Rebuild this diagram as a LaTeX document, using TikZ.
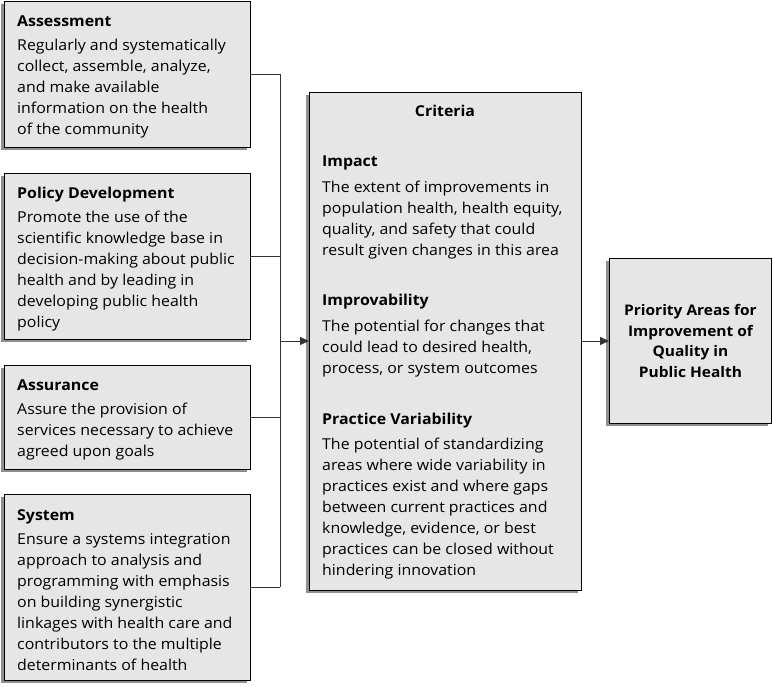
\documentclass[tikz,border=0pt]{standalone}
\usepackage{fontspec}
\setmainfont{Open Sans}[FakeStretch=1.06]
\usetikzlibrary{arrows.meta,shadows}
\definecolor{boxgray}{HTML}{E6E6E6}
\definecolor{shadowgray}{HTML}{8F8F8F}
\newcommand{\tstrut}{\rule{0pt}{15pt}}
\begin{document}
\begin{tikzpicture}[x=1pt,y=-1pt,
  box/.style={draw=black, line width=0.9pt, fill=boxgray, inner sep=0pt, anchor=north west,
    drop shadow={shadow xshift=-3pt, shadow yshift=-3pt, fill=shadowgray, opacity=1}},
  txt/.style={anchor=north west, align=left, inner sep=0pt, font=\fontsize{15}{21}\selectfont},
  ttl/.style={txt, font=\fontsize{15}{21}\selectfont\bfseries},
  conn/.style={draw=black!80, line width=0.8pt},
  arr/.style={conn, -{Triangle[length=9pt,width=8pt]}}]
\useasboundingbox (0,0) rectangle (773,687);
% left boxes
\node[box, minimum width=246pt, minimum height=146pt] (assessbox) at (4,1) {};
\node[box, minimum width=246pt, minimum height=166pt] (policybox) at (4,173) {};
\node[box, minimum width=246pt, minimum height=104pt] (assurbox) at (4,365) {};
\node[box, minimum width=246pt, minimum height=186pt] (systembox) at (4,494) {};
% centre and right boxes
\node[box, minimum width=272pt, minimum height=498pt] (critbox) at (309,92) {};
\node[box, minimum width=162pt, minimum height=165pt] (priobox) at (609,258) {};
% left texts
\node[ttl] (assesst) at (17,11) {\tstrut Assessment};
\node[txt] (assessb) at (17,35) {\tstrut Regularly and systematically\\collect, assemble, analyze,\\and make available\\information on the health\\of the community};
\node[ttl] (policyt) at (17,183) {\tstrut Policy Development};
\node[txt] (policyb) at (17,207) {\tstrut Promote the use of the\\scientific knowledge base in\\decision-making about public\\health and by leading in\\developing public health\\policy};
\node[ttl] (assurt) at (17,375) {\tstrut Assurance};
\node[txt] (assurb) at (17,399) {\tstrut Assure the provision of\\services necessary to achieve\\agreed upon goals};
\node[ttl] (systemt) at (17,505) {\tstrut System};
\node[txt] (systemb) at (17,529) {\tstrut Ensure a systems integration\\approach to analysis and\\programming with emphasis\\on building synergistic\\linkages with health care and\\contributors to the multiple\\determinants of health};
% criteria texts
\node[ttl, anchor=north] (critt) at (445,101) {\tstrut Criteria};
\node[ttl] (impactt) at (322,151) {\tstrut Impact};
\node[txt] (impactb) at (322,177) {\tstrut The extent of improvements in\\population health, health equity,\\quality, and safety that could\\result given changes in this area};
\node[ttl] (improvt) at (322,290) {\tstrut Improvability};
\node[txt] (improvb) at (322,316) {\tstrut The potential for changes that\\could lead to desired health,\\process, or system outcomes};
\node[ttl] (practt) at (322,409) {\tstrut Practice Variability};
\node[txt] (practb) at (322,434) {\tstrut The potential of standardizing\\areas where wide variability in\\practices exist and where gaps\\between current practices and\\knowledge, evidence, or best\\practices can be closed without\\hindering innovation};
% priority text
\node[txt, anchor=center, align=center, font=\fontsize{14.6}{20.5}\selectfont\bfseries] (priot) at (priobox.center) {Priority Areas for\\Improvement of\\Quality in\\Public Health};
% connectors
\coordinate (spine) at (280,341);
\draw[conn] (assessbox.east) -- (assessbox.east -| spine);
\draw[conn] (policybox.east) -- (policybox.east -| spine);
\draw[conn] (assurbox.east) -- (assurbox.east -| spine);
\draw[conn] (systembox.east) -- (systembox.east -| spine);
\draw[conn] (assessbox.east -| spine) -- (systembox.east -| spine);
\draw[arr] (spine) -- (critbox.west |- spine);
\draw[arr] (critbox.east |- spine) -- (priobox.west |- spine);
\end{tikzpicture}
\end{document}
